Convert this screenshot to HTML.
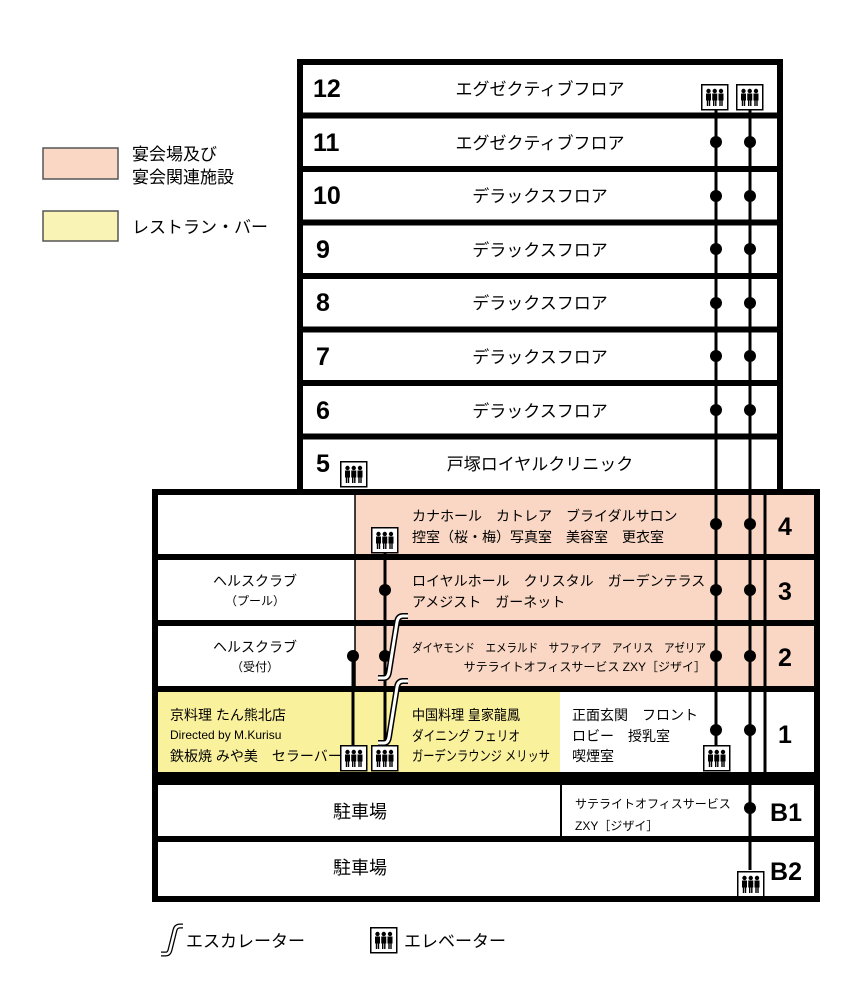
<!DOCTYPE html>
<html><head><meta charset="utf-8"><style>
html,body{margin:0;padding:0;background:#fff;}
svg{display:block;}
text{font-family:"Liberation Sans","Noto Sans CJK JP",sans-serif;fill:#000;}
.n{font-weight:bold;font-size:25px;}
.t{font-size:17px;}
.s{font-size:14px;}
.x{font-size:12px;}
</style></head><body>
<svg width="857" height="991" viewBox="0 0 857 991" xmlns="http://www.w3.org/2000/svg">
<defs>
<g id="ev">
<rect x="0.75" y="0.75" width="26" height="25" fill="#fff" stroke="#000" stroke-width="1.5"/>
<g fill="#000">
<circle cx="7.5" cy="7" r="2.2"/><rect x="5" y="9.5" width="5" height="7"/><rect x="5.8" y="16" width="1.4" height="6"/><rect x="7.8" y="16" width="1.4" height="6"/>
<circle cx="13.75" cy="7" r="2.2"/><rect x="11.25" y="9.5" width="5" height="7"/><rect x="12" y="16" width="1.4" height="6"/><rect x="14.1" y="16" width="1.4" height="6"/>
<circle cx="20" cy="7" r="2.2"/><rect x="17.5" y="9.5" width="5" height="7"/><rect x="18.3" y="16" width="1.4" height="6"/><rect x="20.3" y="16" width="1.4" height="6"/>
</g>
</g>
<g id="esc">
<path d="M0,62 L6,62 Q10,62 11,56 L19,6 Q20,0 25,0 L30,0" fill="none" stroke="#000" stroke-width="6"/>
<path d="M0,62 L6,62 Q10,62 11,56 L19,6 Q20,0 25,0 L30,0" fill="none" stroke="#fff" stroke-width="3"/>
</g>
</defs>

<!-- legend -->
<rect x="43" y="148" width="75" height="31" fill="#f9d7c4" stroke="#555" stroke-width="1.5"/>
<text x="132" y="160" class="t">宴会場及び</text>
<text x="132" y="183" class="t">宴会関連施設</text>
<rect x="43" y="211" width="75" height="30" fill="#faf3b6" stroke="#555" stroke-width="1.5"/>
<text x="132" y="233" class="t">レストラン・バー</text>

<!-- tower -->
<rect x="300" y="62" width="480" height="430" fill="#fff" stroke="#000" stroke-width="6"/>
<g stroke="#000" stroke-width="6">
<line x1="300" y1="115.5" x2="780" y2="115.5"/>
<line x1="300" y1="169" x2="780" y2="169"/>
<line x1="300" y1="222.5" x2="780" y2="222.5"/>
<line x1="300" y1="276" x2="780" y2="276"/>
<line x1="300" y1="329.5" x2="780" y2="329.5"/>
<line x1="300" y1="383" x2="780" y2="383"/>
<line x1="300" y1="436.5" x2="780" y2="436.5"/>
</g>
<text x="313" y="97" class="n">12</text><text x="540" y="95" class="t" text-anchor="middle">エグゼクティブフロア</text>
<text x="313" y="151" class="n">11</text><text x="540" y="149" class="t" text-anchor="middle">エグゼクティブフロア</text>
<text x="313" y="204" class="n">10</text><text x="540" y="202" class="t" text-anchor="middle">デラックスフロア</text>
<text x="316" y="258" class="n">9</text><text x="540" y="256" class="t" text-anchor="middle">デラックスフロア</text>
<text x="316" y="311" class="n">8</text><text x="540" y="309" class="t" text-anchor="middle">デラックスフロア</text>
<text x="316" y="365" class="n">7</text><text x="540" y="363" class="t" text-anchor="middle">デラックスフロア</text>
<text x="316" y="419" class="n">6</text><text x="540" y="417" class="t" text-anchor="middle">デラックスフロア</text>
<text x="316" y="472" class="n">5</text><text x="540" y="470" class="t" text-anchor="middle">戸塚ロイヤルクリニック</text>

<!-- lower block fills -->
<rect x="155" y="492" width="662" height="407" fill="#fff"/>
<rect x="355" y="492" width="462" height="197" fill="#f9d7c4"/>
<rect x="155" y="689" width="405" height="83" fill="#faf19d"/>
<rect x="155" y="492" width="662" height="407" fill="none" stroke="#000" stroke-width="6"/>
<g stroke="#000">
<line x1="155" y1="557" x2="817" y2="557" stroke-width="6"/>
<line x1="155" y1="623" x2="817" y2="623" stroke-width="6"/>
<line x1="155" y1="689" x2="817" y2="689" stroke-width="6"/>
<line x1="155" y1="839" x2="817" y2="839" stroke-width="6"/>
<line x1="765" y1="492" x2="765" y2="772" stroke-width="3"/>
<line x1="561" y1="785" x2="561" y2="836" stroke-width="2"/>
<line x1="355" y1="492" x2="355" y2="689" stroke-width="1.5"/>
</g>
<rect x="155" y="772" width="662" height="13" fill="#000"/>

<!-- elevator lines -->
<g stroke="#000" stroke-width="3">
<line x1="716" y1="110" x2="716" y2="745"/>
<line x1="750" y1="110" x2="750" y2="870"/>
<line x1="385" y1="553" x2="385" y2="745"/>
<line x1="353" y1="656" x2="353" y2="745"/>
</g>
<g fill="#000">
<circle cx="716" cy="142" r="6"/><circle cx="750" cy="142" r="6"/>
<circle cx="716" cy="196" r="6"/><circle cx="750" cy="196" r="6"/>
<circle cx="716" cy="249" r="6"/><circle cx="750" cy="249" r="6"/>
<circle cx="716" cy="303" r="6"/><circle cx="750" cy="303" r="6"/>
<circle cx="716" cy="356" r="6"/><circle cx="750" cy="356" r="6"/>
<circle cx="716" cy="410" r="6"/><circle cx="750" cy="410" r="6"/>
<circle cx="716" cy="524" r="6"/><circle cx="750" cy="524" r="6"/>
<circle cx="716" cy="590" r="6"/><circle cx="750" cy="590" r="6"/>
<circle cx="716" cy="656" r="6"/><circle cx="750" cy="656" r="6"/>
<circle cx="716" cy="730" r="6"/><circle cx="750" cy="730" r="6"/>
<circle cx="750" cy="808" r="6"/>
<circle cx="385" cy="590" r="6"/><circle cx="385" cy="656" r="6"/>
<circle cx="353" cy="656" r="6"/>
</g>
<use href="#esc" x="378" y="616"/>
<use href="#esc" x="378" y="681"/>

<use href="#ev" x="701" y="84"/>
<use href="#ev" x="736" y="84"/>
<use href="#ev" x="340" y="461"/>
<use href="#ev" x="371" y="527"/>
<use href="#ev" x="340" y="745"/>
<use href="#ev" x="371" y="745"/>
<use href="#ev" x="703" y="745"/>
<use href="#ev" x="737" y="871"/>

<!-- lower text -->
<text x="412" y="521" class="s">カナホール　カトレア　ブライダルサロン</text>
<text x="412" y="542" class="s">控室（桜・梅）写真室　美容室　更衣室</text>
<text x="785" y="535" class="n" text-anchor="middle">4</text>
<text x="255" y="586" class="s" text-anchor="middle">ヘルスクラブ</text>
<text x="255" y="605" class="x" text-anchor="middle">（プール）</text>
<text x="412" y="586" class="s">ロイヤルホール　クリスタル　ガーデンテラス</text>
<text x="412" y="607" class="s">アメジスト　ガーネット</text>
<text x="785" y="600" class="n" text-anchor="middle">3</text>
<text x="255" y="652" class="s" text-anchor="middle">ヘルスクラブ</text>
<text x="255" y="671" class="x" text-anchor="middle">（受付）</text>
<text x="412" y="652" class="x" textLength="294" lengthAdjust="spacingAndGlyphs">ダイヤモンド　エメラルド　サファイア　アイリス　アゼリア</text>
<text x="706" y="671" class="x" text-anchor="end">サテライトオフィスサービス ZXY［ジザイ］</text>
<text x="785" y="666" class="n" text-anchor="middle">2</text>
<text x="170" y="720" class="s">京料理 たん熊北店</text>
<text x="170" y="739" class="x">Directed by M.Kurisu</text>
<text x="170" y="761" class="s">鉄板焼 みや美　セラーバー</text>
<text x="412" y="720" class="s" textLength="108" lengthAdjust="spacingAndGlyphs">中国料理 皇家龍鳳</text>
<text x="412" y="741" class="s" textLength="108" lengthAdjust="spacingAndGlyphs">ダイニング フェリオ</text>
<text x="412" y="761" class="s" textLength="138" lengthAdjust="spacingAndGlyphs">ガーデンラウンジ メリッサ</text>
<text x="572" y="720" class="s">正面玄関　フロント</text>
<text x="572" y="741" class="s">ロビー　授乳室</text>
<text x="572" y="761" class="s">喫煙室</text>
<text x="785" y="743" class="n" text-anchor="middle">1</text>
<text x="360" y="818" style="font-size:18px" text-anchor="middle">駐車場</text>
<text x="575" y="808" class="x">サテライトオフィスサービス</text>
<text x="575" y="830" class="x">ZXY［ジザイ］</text>
<text x="786" y="821" class="n" text-anchor="middle">B1</text>
<text x="360" y="874" style="font-size:18px" text-anchor="middle">駐車場</text>
<text x="786" y="880" class="n" text-anchor="middle">B2</text>

<!-- bottom legend -->
<path d="M161,954 L166,954 Q169,954 170,950 L175,930 Q176,926 180,926 L183,926" fill="none" stroke="#000" stroke-width="5"/>
<path d="M161,954 L166,954 Q169,954 170,950 L175,930 Q176,926 180,926 L183,926" fill="none" stroke="#fff" stroke-width="2.5"/>
<text x="186" y="947" class="t">エスカレーター</text>
<use href="#ev" x="370" y="927"/>
<text x="404" y="947" class="t">エレベーター</text>
</svg>
</body></html>
